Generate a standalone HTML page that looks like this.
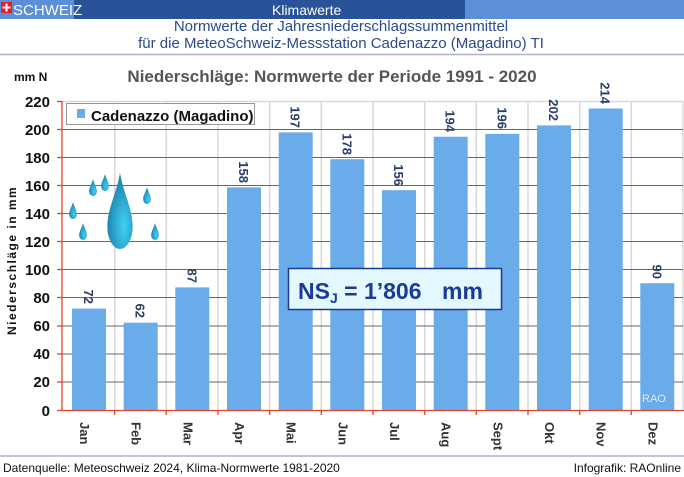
<!DOCTYPE html>
<html><head><meta charset="utf-8"><style>
body{margin:0;background:#fff}
svg{display:block;font-family:"Liberation Sans",Arial,sans-serif}
</style></head><body>
<svg width="684" height="477" viewBox="0 0 684 477" xmlns="http://www.w3.org/2000/svg">
<defs>
<radialGradient id="dg" cx="0.65" cy="0.7" r="0.7">
<stop offset="0" stop-color="#3fd0f5"/><stop offset="1" stop-color="#1a7fa8"/>
</radialGradient>
<path id="drop" d="M0,-1 C0.15,-0.5 0.55,-0.1 0.55,0.35 A0.55,0.55 0 0 1 -0.55,0.35 C-0.55,-0.1 -0.15,-0.5 0,-1Z"/>
</defs>
<rect x="0" y="0" width="684" height="19" fill="#2a5298"/>
<rect x="0" y="0" width="74" height="19" fill="#5b8fd8"/>
<rect x="465" y="0" width="219" height="19" fill="#5b8fd8"/>
<rect x="1" y="2" width="11" height="11" fill="#e31e24"/>
<rect x="5.5" y="3.5" width="2" height="8" fill="#fff"/><rect x="2.5" y="6.5" width="8" height="2" fill="#fff"/>
<text x="13" y="15" font-size="15" fill="#fff">SCHWEIZ</text>
<text x="272" y="15" font-size="14" fill="#fff">Klimawerte</text>
<text x="341" y="31" font-size="15" fill="#2a4a8f" text-anchor="middle">Normwerte der Jahresniederschlagssummenmittel</text>
<text x="341" y="48" font-size="15" fill="#2a4a8f" text-anchor="middle">für die MeteoSchweiz-Messstation Cadenazzo (Magadino) TI</text>
<line x1="0" y1="54.5" x2="684" y2="54.5" stroke="#aab4cc" stroke-width="1.5"/>
<text x="14" y="81" font-size="12" font-weight="bold" fill="#111">mm N</text>
<text x="332" y="82" font-size="17" font-weight="bold" fill="#555" text-anchor="middle">Niederschläge: Normwerte der Periode  1991 - 2020</text>
<g stroke="#d8d8d8" stroke-width="1.5">
<line x1="114.7" y1="101" x2="114.7" y2="410"/><line x1="166.3" y1="101" x2="166.3" y2="410"/><line x1="218" y1="101" x2="218" y2="410"/><line x1="269.7" y1="101" x2="269.7" y2="410"/><line x1="321.3" y1="101" x2="321.3" y2="410"/><line x1="373" y1="101" x2="373" y2="410"/><line x1="424.7" y1="101" x2="424.7" y2="410"/><line x1="476.3" y1="101" x2="476.3" y2="410"/><line x1="528" y1="101" x2="528" y2="410"/><line x1="579.7" y1="101" x2="579.7" y2="410"/><line x1="631.3" y1="101" x2="631.3" y2="410"/><line x1="683" y1="101" x2="683" y2="410"/>
<line x1="62" y1="101.5" x2="683" y2="101.5"/>
</g>
<g stroke="#666" stroke-width="1">
<line x1="62" y1="129.5" x2="683" y2="129.5"/><line x1="62" y1="157.5" x2="683" y2="157.5"/><line x1="62" y1="185.5" x2="683" y2="185.5"/><line x1="62" y1="213.5" x2="683" y2="213.5"/><line x1="62" y1="241.5" x2="683" y2="241.5"/><line x1="62" y1="269.5" x2="683" y2="269.5"/><line x1="62" y1="297.5" x2="683" y2="297.5"/><line x1="62" y1="326" x2="683" y2="326"/><line x1="62" y1="354" x2="683" y2="354"/><line x1="62" y1="382" x2="683" y2="382"/>
</g>
<g fill="#6aabe9">
<rect x="72" y="308.6" width="34" height="101.4"/>
<rect x="123.7" y="322.7" width="34" height="87.3"/>
<rect x="175.3" y="287.4" width="34" height="122.6"/>
<rect x="227" y="187.4" width="34" height="222.6"/>
<rect x="278.7" y="132.4" width="34" height="277.6"/>
<rect x="330.3" y="159.2" width="34" height="250.8"/>
<rect x="382" y="190.2" width="34" height="219.8"/>
<rect x="433.7" y="136.7" width="34" height="273.3"/>
<rect x="485.3" y="133.9" width="34" height="276.1"/>
<rect x="537" y="125.4" width="34" height="284.6"/>
<rect x="588.7" y="108.5" width="34" height="301.5"/>
<rect x="640.3" y="283.2" width="34" height="126.8"/>
</g>
<text x="642" y="402" font-size="11" fill="#dde8f8">RAO</text>
<g font-size="13" font-weight="bold" fill="#2a3f66" text-anchor="end">
<text transform="translate(84,304) rotate(90)">72</text>
<text transform="translate(135.7,318) rotate(90)">62</text>
<text transform="translate(187.3,283) rotate(90)">87</text>
<text transform="translate(239,183) rotate(90)">158</text>
<text transform="translate(290.7,128) rotate(90)">197</text>
<text transform="translate(342.3,155) rotate(90)">178</text>
<text transform="translate(394,186) rotate(90)">156</text>
<text transform="translate(445.7,132) rotate(90)">194</text>
<text transform="translate(497.3,129) rotate(90)">196</text>
<text transform="translate(549,121) rotate(90)">202</text>
<text transform="translate(600.7,104) rotate(90)">214</text>
<text transform="translate(652.3,279) rotate(90)">90</text>
</g>
<g stroke="#e0442a" stroke-width="1.3">
<line x1="62" y1="101" x2="62" y2="410"/><line x1="57" y1="410.5" x2="684" y2="410.5"/>
<line x1="57" y1="101.5" x2="62" y2="101.5"/><line x1="57" y1="129.5" x2="62" y2="129.5"/><line x1="57" y1="157.5" x2="62" y2="157.5"/><line x1="57" y1="185.5" x2="62" y2="185.5"/><line x1="57" y1="213.5" x2="62" y2="213.5"/><line x1="57" y1="241.5" x2="62" y2="241.5"/><line x1="57" y1="269.5" x2="62" y2="269.5"/><line x1="57" y1="297.5" x2="62" y2="297.5"/><line x1="57" y1="326" x2="62" y2="326"/><line x1="57" y1="354" x2="62" y2="354"/><line x1="57" y1="382" x2="62" y2="382"/>
<line x1="114.7" y1="410" x2="114.7" y2="415"/><line x1="166.3" y1="410" x2="166.3" y2="415"/><line x1="218" y1="410" x2="218" y2="415"/><line x1="269.7" y1="410" x2="269.7" y2="415"/><line x1="321.3" y1="410" x2="321.3" y2="415"/><line x1="373" y1="410" x2="373" y2="415"/><line x1="424.7" y1="410" x2="424.7" y2="415"/><line x1="476.3" y1="410" x2="476.3" y2="415"/><line x1="528" y1="410" x2="528" y2="415"/><line x1="579.7" y1="410" x2="579.7" y2="415"/><line x1="631.3" y1="410" x2="631.3" y2="415"/>
</g>
<g font-size="15" font-weight="bold" fill="#111" text-anchor="end">
<text x="50" y="107">220</text><text x="50" y="135">200</text><text x="50" y="163">180</text><text x="50" y="191">160</text><text x="50" y="219">140</text><text x="50" y="247">120</text><text x="50" y="275">100</text><text x="50" y="303">80</text><text x="50" y="331">60</text><text x="50" y="359">40</text><text x="50" y="387">20</text><text x="50" y="416">0</text>
</g>
<text transform="translate(16,335) rotate(-90)" font-size="12" font-weight="bold" fill="#111" letter-spacing="1.5">Niederschläge in mm</text>
<g font-size="13" font-weight="bold" fill="#333">
<text transform="translate(80,422) rotate(90)">Jan</text>
<text transform="translate(131.7,422) rotate(90)">Feb</text>
<text transform="translate(183.3,422) rotate(90)">Mar</text>
<text transform="translate(235,422) rotate(90)">Apr</text>
<text transform="translate(286.7,422) rotate(90)">Mai</text>
<text transform="translate(338.3,422) rotate(90)">Jun</text>
<text transform="translate(390,422) rotate(90)">Jul</text>
<text transform="translate(441.7,422) rotate(90)">Aug</text>
<text transform="translate(493.3,422) rotate(90)">Sept</text>
<text transform="translate(545,422) rotate(90)">Okt</text>
<text transform="translate(596.7,422) rotate(90)">Nov</text>
<text transform="translate(648.3,422) rotate(90)">Dez</text>
</g>
<rect x="66.5" y="103.5" width="188" height="21" fill="#fff" stroke="#999"/>
<rect x="77" y="109" width="8" height="9" fill="#6aabe9"/>
<text x="91" y="121" font-size="15" font-weight="bold" fill="#111">Cadenazzo (Magadino)</text>
<g fill="url(#dg)">
<use href="#drop" transform="translate(120,213) scale(23,40)"/>
<use href="#drop" transform="translate(105,183) scale(7,9)"/>
<use href="#drop" transform="translate(93,188) scale(7,9)"/>
<use href="#drop" transform="translate(147,196) scale(7,9)"/>
<use href="#drop" transform="translate(73,211) scale(7,9)"/>
<use href="#drop" transform="translate(83,232) scale(7,9)"/>
<use href="#drop" transform="translate(155,232) scale(7,9)"/>
</g>
<rect x="288.5" y="268.5" width="213" height="41" fill="#e3f8ff" stroke="#1a3a9a" stroke-width="1.5"/>
<text x="298" y="299" font-size="23" font-weight="bold" fill="#1a3a9a">NS<tspan font-size="14" dy="4">J</tspan><tspan dy="-4"> = 1’806</tspan><tspan x="442">mm</tspan></text>
<line x1="0" y1="456" x2="684" y2="456" stroke="#aab4cc" stroke-width="1.5"/>
<text x="3" y="472" font-size="12" fill="#111">Datenquelle: Meteoschweiz 2024, Klima-Normwerte 1981-2020</text>
<text x="681" y="472" font-size="12" fill="#111" text-anchor="end">Infografik: RAOnline</text>
</svg>
</body></html>
